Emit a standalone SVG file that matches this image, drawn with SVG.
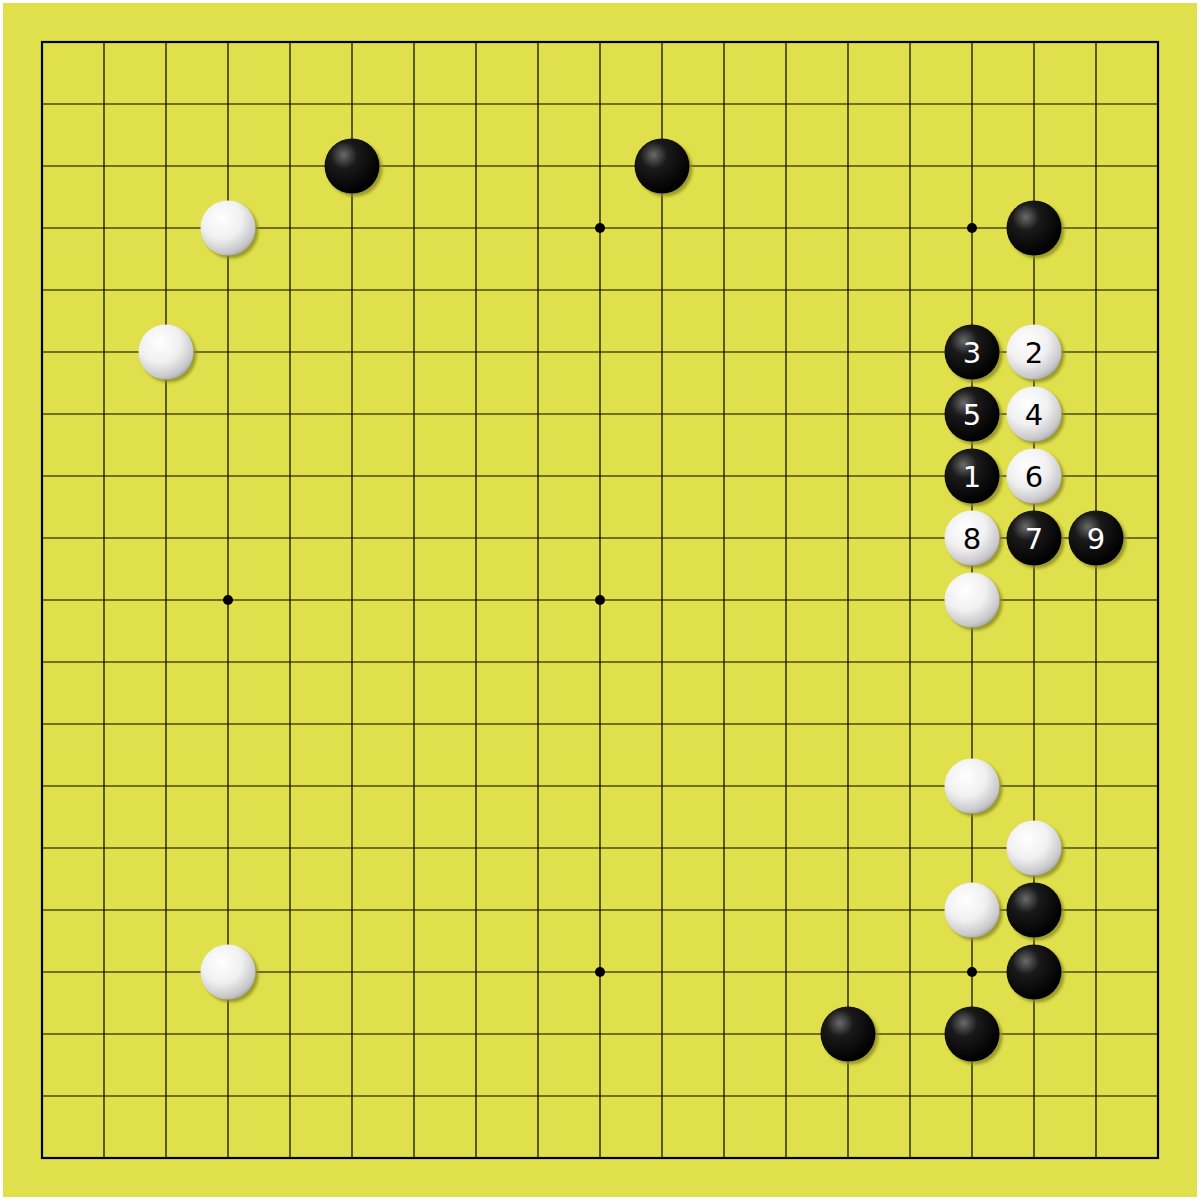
<svg xmlns="http://www.w3.org/2000/svg" width="1200" height="1200" viewBox="0 0 1200 1200">
<style>
.grid line{stroke:#000;stroke-width:1.2}
.lbl{font-family:"DejaVu Sans","Liberation Sans",sans-serif;font-size:29px;text-anchor:middle;dominant-baseline:central}
.onb{fill:#fff}.onw{fill:#000}
</style>
<defs>
<radialGradient id="gb" cx="0.35" cy="0.3" r="0.7">
<stop offset="0" stop-color="#6a6a6a"/><stop offset="0.35" stop-color="#1a1a1a"/><stop offset="1" stop-color="#000"/>
</radialGradient>
<radialGradient id="gw" cx="0.38" cy="0.32" r="0.75">
<stop offset="0" stop-color="#fff"/><stop offset="0.5" stop-color="#f0f0f0"/><stop offset="0.85" stop-color="#c8c8cc"/><stop offset="1" stop-color="#9a9aa0"/>
</radialGradient>
<filter id="sh" x="-30%" y="-30%" width="160%" height="160%"><feGaussianBlur stdDeviation="1.5"/></filter>
<g id="B"><circle cx="3" cy="3" r="27.5" fill="#8a8a20" opacity="0.8" filter="url(#sh)"/><circle r="27.5" fill="url(#gb)"/></g>
<g id="W"><circle cx="3" cy="3" r="27.5" fill="#8a8a20" opacity="0.8" filter="url(#sh)"/><circle r="27.5" fill="url(#gw)"/></g>
</defs>
<rect width="1200" height="1200" fill="#fff"/>
<rect x="3" y="3" width="1194" height="1194" fill="#e0e04c"/>
<g id="board" class="grid">
<line x1="104" y1="42" x2="104" y2="1158"/><line x1="166" y1="42" x2="166" y2="1158"/><line x1="228" y1="42" x2="228" y2="1158"/><line x1="290" y1="42" x2="290" y2="1158"/><line x1="352" y1="42" x2="352" y2="1158"/><line x1="414" y1="42" x2="414" y2="1158"/><line x1="476" y1="42" x2="476" y2="1158"/><line x1="538" y1="42" x2="538" y2="1158"/><line x1="600" y1="42" x2="600" y2="1158"/><line x1="662" y1="42" x2="662" y2="1158"/><line x1="724" y1="42" x2="724" y2="1158"/><line x1="786" y1="42" x2="786" y2="1158"/><line x1="848" y1="42" x2="848" y2="1158"/><line x1="910" y1="42" x2="910" y2="1158"/><line x1="972" y1="42" x2="972" y2="1158"/><line x1="1034" y1="42" x2="1034" y2="1158"/><line x1="1096" y1="42" x2="1096" y2="1158"/>
<line y1="104" x1="42" y2="104" x2="1158"/><line y1="166" x1="42" y2="166" x2="1158"/><line y1="228" x1="42" y2="228" x2="1158"/><line y1="290" x1="42" y2="290" x2="1158"/><line y1="352" x1="42" y2="352" x2="1158"/><line y1="414" x1="42" y2="414" x2="1158"/><line y1="476" x1="42" y2="476" x2="1158"/><line y1="538" x1="42" y2="538" x2="1158"/><line y1="600" x1="42" y2="600" x2="1158"/><line y1="662" x1="42" y2="662" x2="1158"/><line y1="724" x1="42" y2="724" x2="1158"/><line y1="786" x1="42" y2="786" x2="1158"/><line y1="848" x1="42" y2="848" x2="1158"/><line y1="910" x1="42" y2="910" x2="1158"/><line y1="972" x1="42" y2="972" x2="1158"/><line y1="1034" x1="42" y2="1034" x2="1158"/><line y1="1096" x1="42" y2="1096" x2="1158"/>
<rect x="42" y="42" width="1116" height="1116" fill="none" stroke="#000" stroke-width="2.2"/>
<g fill="#000"><circle cx="228" cy="228" r="5"/><circle cx="600" cy="228" r="5"/><circle cx="972" cy="228" r="5"/><circle cx="228" cy="600" r="5"/><circle cx="600" cy="600" r="5"/><circle cx="972" cy="600" r="5"/><circle cx="228" cy="972" r="5"/><circle cx="600" cy="972" r="5"/><circle cx="972" cy="972" r="5"/></g>
</g>
<g id="stones">
<use href="#B" x="352" y="166"/><use href="#B" x="662" y="166"/><use href="#B" x="1034" y="228"/>
<use href="#B" x="1034" y="910"/><use href="#B" x="1034" y="972"/><use href="#B" x="848" y="1034"/><use href="#B" x="972" y="1034"/>
<use href="#W" x="228" y="228"/><use href="#W" x="166" y="352"/><use href="#W" x="972" y="600"/><use href="#W" x="972" y="786"/><use href="#W" x="1034" y="848"/><use href="#W" x="972" y="910"/><use href="#W" x="228" y="972"/>
</g>
<g id="m1"><use href="#B" x="972" y="476"/><text class="lbl onb" x="972" y="477">1</text></g>
<g id="m2"><use href="#W" x="1034" y="352"/><text class="lbl onw" x="1034" y="353">2</text></g>
<g id="m3"><use href="#B" x="972" y="352"/><text class="lbl onb" x="972" y="353">3</text></g>
<g id="m4"><use href="#W" x="1034" y="414"/><text class="lbl onw" x="1034" y="415">4</text></g>
<g id="m5"><use href="#B" x="972" y="414"/><text class="lbl onb" x="972" y="415">5</text></g>
<g id="m6"><use href="#W" x="1034" y="476"/><text class="lbl onw" x="1034" y="477">6</text></g>
<g id="m7"><use href="#B" x="1034" y="538"/><text class="lbl onb" x="1034" y="539">7</text></g>
<g id="m8"><use href="#W" x="972" y="538"/><text class="lbl onw" x="972" y="539">8</text></g>
<g id="m9"><use href="#B" x="1096" y="538"/><text class="lbl onb" x="1096" y="539">9</text></g>
</svg>
